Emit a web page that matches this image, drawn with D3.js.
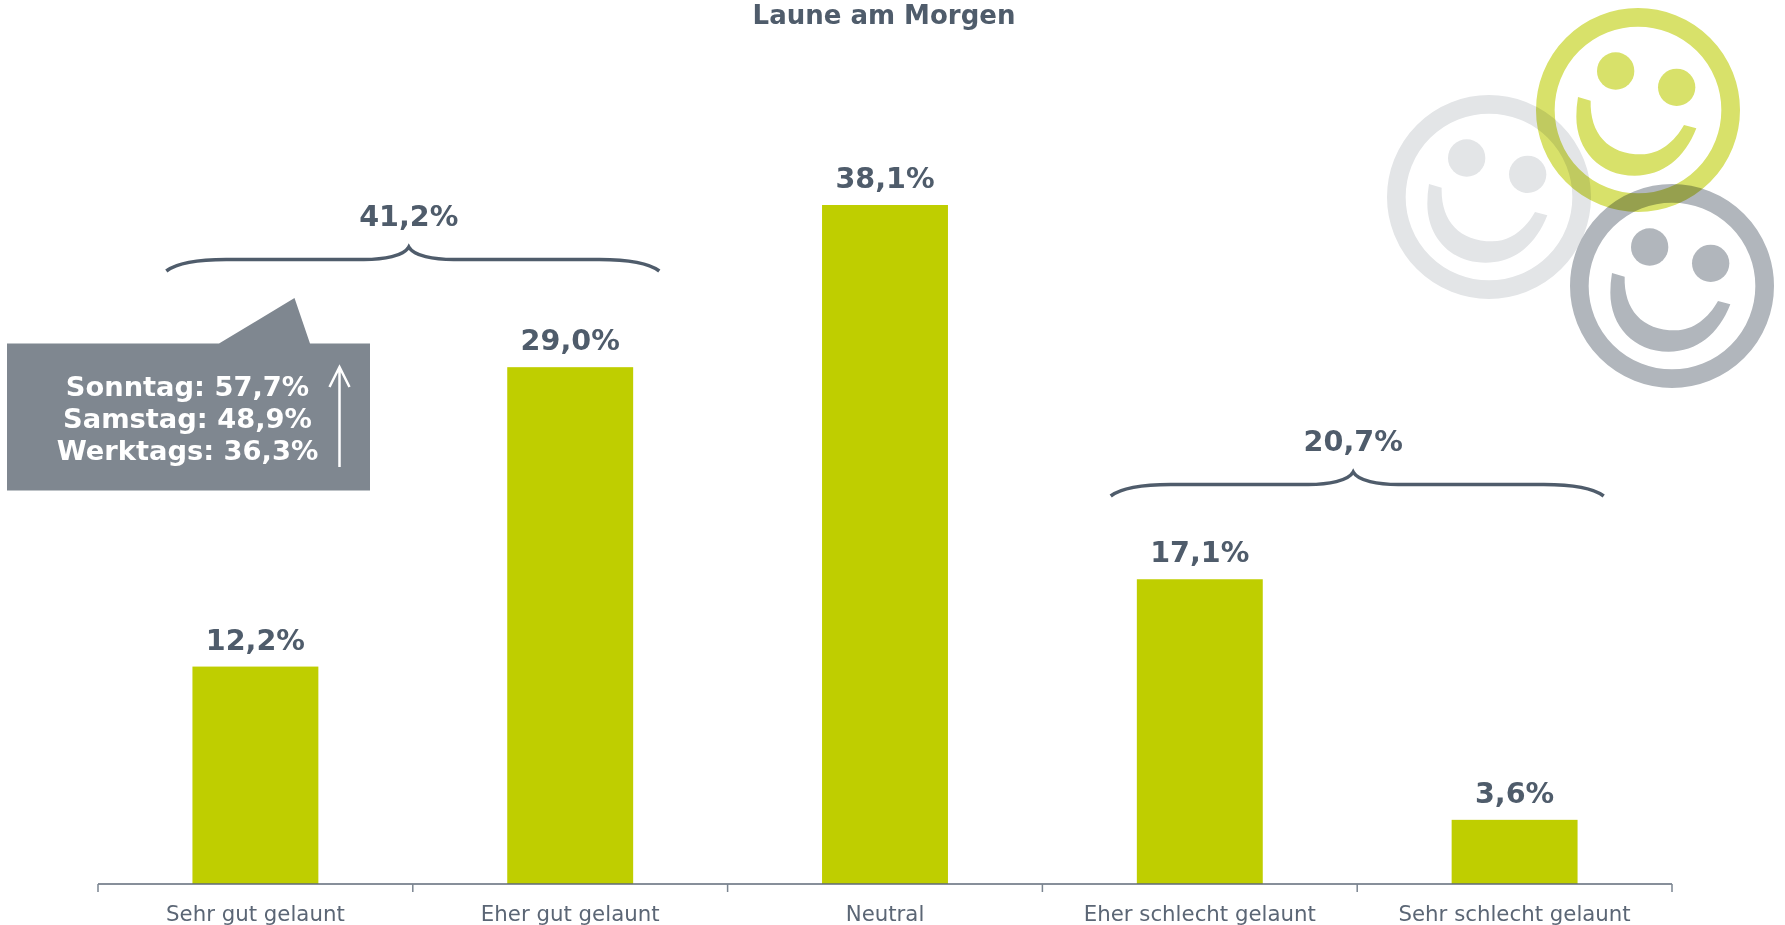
<!DOCTYPE html>
<html><head><meta charset="utf-8">
<script src="https://cdn.jsdelivr.net/npm/d3@7/dist/d3.min.js"></script>
<style>html,body{margin:0;padding:0;background:#fff}svg{display:block}text{font-family:"DejaVu Sans",sans-serif}</style>
</head><body><svg id="c" width="1785" height="925"></svg>
<script>
const categories = ["Sehr gut gelaunt","Eher gut gelaunt","Neutral","Eher schlecht gelaunt","Sehr schlecht gelaunt"];
const values = [12.2,29.0,38.1,17.1,3.6];
const groupLabels = ["41,2%","20,7%"];
const groupBoundaries = [1,4];
const title = "Laune am Morgen";
const calloutLines = ["Sonntag: 57,7%","Samstag: 48,9%","Werktags: 36,3%"];

const fmt = v => v.toFixed(1).replace(".",",")+"%";
const svg = d3.select("#c");
const textCol = "#4f5c6b", barCol = "#bfce00";
const x = d3.scaleBand().domain(categories).range([98,1672]).paddingInner(0.6).paddingOuter(0.3);
const band = d3.scaleBand().domain(categories).range([98,1672]);
const y = d3.scaleLinear().domain([0,38.1]).range([884,205]);

// smileys
function smiley(cx,cy,col){
  const g = svg.append("g").attr("transform",`translate(${cx},${cy}) scale(${1/3}) translate(-805,-330)`).style("mix-blend-mode","multiply");
  g.append("circle").attr("cx",805).attr("cy",330).attr("r",278).attr("fill","none").attr("stroke",col).attr("stroke-width",56);
  g.append("circle").attr("cx",738).attr("cy",213).attr("r",56).attr("fill",col);
  g.append("circle").attr("cx",921).attr("cy",262).attr("r",56).attr("fill",col);
  const p = d3.path();
  p.moveTo(625,291); p.lineTo(663,302);
  p.bezierCurveTo(660,400,715,463,815,463);
  p.bezierCurveTo(870,463,915,425,943,375);
  p.lineTo(980,385);
  p.bezierCurveTo(945,475,880,527,795,527);
  p.bezierCurveTo(690,527,620,450,620,350);
  p.quadraticCurveTo(620,320,625,291);
  p.closePath();
  g.append("path").attr("d",p.toString()).attr("fill",col);
}
smiley(1489,197,"#e3e5e7");
smiley(1672,286,"#b1b6bc");
smiley(1638,110,"#d8e16a");

// bars
svg.append("g").selectAll("rect").data(values).join("rect")
  .attr("x",(d,i)=>x(categories[i])).attr("width",x.bandwidth())
  .attr("y",d=>y(d)).attr("height",d=>y(0)-y(d)).attr("fill",barCol);

// value labels
svg.append("g").selectAll("text").data(values).join("text")
  .attr("x",(d,i)=>x(categories[i])+x.bandwidth()/2).attr("y",d=>y(d)-17)
  .attr("text-anchor","middle").attr("font-weight","bold").attr("font-size",28.6).attr("fill",textCol)
  .text(fmt);

// axis
const ax = svg.append("g").attr("transform",`translate(0,${y(0)})`).call(d3.axisBottom(x).tickSize(0).tickPadding(0));
ax.select(".domain").remove();
ax.selectAll("text").attr("y",37).attr("dy",0).attr("font-size",21.3).attr("fill","#5b6675").style("font-family",'"DejaVu Sans"');
svg.append("line").attr("x1",98).attr("x2",1672).attr("y1",y(0)).attr("y2",y(0)).attr("stroke","#5f6a78").attr("stroke-width",1.5);
const bounds = categories.map(c=>band(c)).concat([1672]);
svg.append("g").selectAll("line").data(bounds).join("line")
  .attr("x1",d=>d).attr("x2",d=>d).attr("y1",y(0)).attr("y2",y(0)+8).attr("stroke","#7a8490").attr("stroke-width",1.5);

// braces
const braceTop = [247,472];
groupLabels.forEach((l,i)=>{
  const cx = band(categories[groupBoundaries[i]]), t = braceTop[i], w = 246.5, tip = cx-4;
  const p = d3.path();
  p.moveTo(cx-w,t+24);
  p.bezierCurveTo(cx-w+12,t+15,cx-w+35,t+12.5,cx-w+60,t+12.5);
  p.lineTo(tip-45,t+12.5);
  p.bezierCurveTo(tip-25,t+12.5,tip-5,t+9,tip,t);
  p.bezierCurveTo(tip+5,t+9,tip+25,t+12.5,tip+45,t+12.5);
  p.lineTo(cx+w-60,t+12.5);
  p.bezierCurveTo(cx+w-35,t+12.5,cx+w-12,t+15,cx+w,t+24);
  svg.append("path").attr("d",p.toString()).attr("fill","none").attr("stroke",textCol).attr("stroke-width",3.6);
  svg.append("text").attr("x",tip).attr("y",t-21).attr("text-anchor","middle").attr("font-weight","bold")
    .attr("font-size",28.6).attr("fill",textCol).text(l);
});

// callout
svg.append("path").attr("d","M7,343.5H219L294.5,298L310,343.5H370V490.5H7Z").attr("fill","#7f8790");
svg.append("g").selectAll("text").data(calloutLines).join("text")
  .attr("x",187.5).attr("y",(d,i)=>395.5+i*32).attr("text-anchor","middle").attr("font-weight","bold")
  .attr("font-size",27.3).attr("fill","#fff").text(d=>d);
svg.append("path").attr("d","M339.5,467V367M329.5,387L339.5,367L349.5,387").attr("fill","none").attr("stroke","#fff").attr("stroke-width",2.5);

// title
svg.append("text").attr("x",884).attr("y",24).attr("text-anchor","middle").attr("font-weight","bold")
  .attr("font-size",26).attr("fill",textCol).text(title);
</script></body></html>
